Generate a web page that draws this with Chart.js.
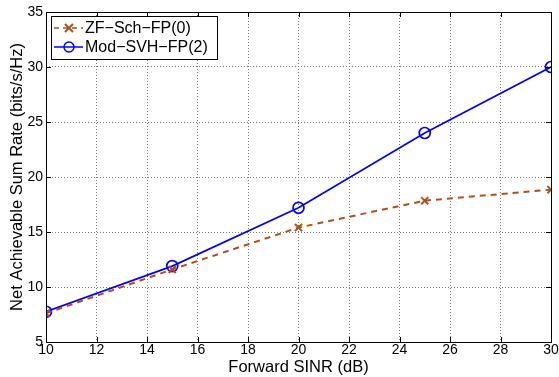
<!DOCTYPE html>
<html>
<head>
<meta charset="utf-8">
<script src="https://cdn.jsdelivr.net/npm/chart.js@4.4.0/dist/chart.umd.min.js"></script>
<style>
  html, body { margin: 0; padding: 0; background: #fff; }
  #wrap { width: 559px; height: 377px; }
</style>
</head>
<body>
<div id="wrap"><canvas id="chart" width="559" height="377"></canvas></div>
<script>
// forward SINR (dB)
const sinr = [10, 15, 20, 25, 30];
// net achievable sum rate (bits/s/Hz)
const zfSch = [7.6, 11.6, 15.4, 17.85, 18.85];
const modSvh = [7.75, 11.9, 17.2, 24.0, 30.0];

const xTicks = [10, 12, 14, 16, 18, 20, 22, 24, 26, 28, 30];
const yTicks = [5, 10, 15, 20, 25, 30, 35];

const seriesNames = ['ZF\u2212Sch\u2212FP(0)', 'Mod\u2212SVH\u2212FP(2)'];
const brown = 'rgb(178,78,24)';
const blue = '#0000ff';
const font = '"Liberation Sans", Arial, sans-serif';

const toPoints = (ys) => ys.map((y, i) => ({ x: sinr[i], y }));

// matlab style box, inward ticks and legend
const matlabBox = {
  id: 'matlabBox',
  afterDraw(chart) {
    const { ctx, chartArea: a, scales } = chart;
    ctx.save();
    ctx.strokeStyle = '#000';
    ctx.lineWidth = 1;
    ctx.strokeRect(a.left + 0.5, a.top + 0.5, a.right - a.left, a.bottom - a.top);
    ctx.beginPath();
    xTicks.forEach(v => {
      const px = Math.round(scales.x.getPixelForValue(v)) + 0.5;
      ctx.moveTo(px, a.bottom); ctx.lineTo(px, a.bottom - 5);
      ctx.moveTo(px, a.top); ctx.lineTo(px, a.top + 5);
    });
    yTicks.forEach(v => {
      const py = Math.round(scales.y.getPixelForValue(v)) + 0.5;
      ctx.moveTo(a.left, py); ctx.lineTo(a.left + 5, py);
      ctx.moveTo(a.right, py); ctx.lineTo(a.right - 5, py);
    });
    ctx.stroke();

    // legend
    const lx = a.left + 5, ly = a.top + 4, lw = 166, lh = 43;
    ctx.fillStyle = '#fff';
    ctx.fillRect(lx, ly, lw, lh);
    ctx.strokeRect(lx + 0.5, ly + 0.5, lw, lh);
    ctx.font = '16px ' + font;
    ctx.textBaseline = 'middle';
    const rows = [ly + 12, ly + 31];
    // row 1: dashed brown with x
    ctx.strokeStyle = brown; ctx.lineWidth = 1.5;
    ctx.setLineDash([5, 4]);
    ctx.beginPath(); ctx.moveTo(lx + 3, rows[0]); ctx.lineTo(lx + 32, rows[0]); ctx.stroke();
    ctx.setLineDash([]);
    ctx.lineWidth = 2;
    ctx.beginPath();
    ctx.moveTo(lx + 14, rows[0] - 4); ctx.lineTo(lx + 22, rows[0] + 4);
    ctx.moveTo(lx + 22, rows[0] - 4); ctx.lineTo(lx + 14, rows[0] + 4);
    ctx.stroke();
    // row 2: solid blue with circle
    ctx.strokeStyle = blue; ctx.lineWidth = 1.5;
    ctx.beginPath(); ctx.moveTo(lx + 3, rows[1]); ctx.lineTo(lx + 32, rows[1]); ctx.stroke();
    ctx.beginPath(); ctx.arc(lx + 18, rows[1], 5, 0, Math.PI * 2); ctx.stroke();
    ctx.fillStyle = '#000';
    ctx.fillText(seriesNames[0], lx + 34, rows[0] + 1);
    ctx.fillText(seriesNames[1], lx + 34, rows[1] + 1);
    ctx.restore();
  }
};

new Chart(document.getElementById('chart'), {
  type: 'line',
  data: {
    datasets: [
      {
        label: seriesNames[0],
        data: toPoints(zfSch),
        borderColor: brown,
        borderWidth: 2,
        borderDash: [6, 5],
        pointStyle: 'crossRot',
        pointRadius: 5,
        pointBorderWidth: 2,
        pointBorderColor: brown,
        pointBackgroundColor: brown,
        tension: 0
      },
      {
        label: seriesNames[1],
        data: toPoints(modSvh),
        borderColor: blue,
        borderWidth: 1.7,
        pointStyle: 'circle',
        pointRadius: 5.5,
        pointBorderWidth: 1.7,
        pointBorderColor: blue,
        pointBackgroundColor: 'rgba(0,0,0,0)',
        tension: 0
      }
    ]
  },
  options: {
    responsive: false,
    animation: false,
    devicePixelRatio: 1,
    layout: { padding: { top: 12, right: 8, left: 0, bottom: 0 } },
    plugins: {
      legend: { display: false },
      tooltip: { enabled: false }
    },
    scales: {
      x: {
        type: 'linear',
        min: 10,
        max: 30,
        afterBuildTicks: (s) => { s.ticks = xTicks.map(v => ({ value: v })); },
        afterFit: (s) => { s.height = 35; },
        ticks: { color: '#000', font: { family: font, size: 14 }, padding: 0, maxRotation: 0 },
        grid: { color: '#777', lineWidth: 1, drawTicks: false },
        border: { display: false, dash: [1, 2] },
        title: { display: true, text: 'Forward SINR (dB)', color: '#000', font: { family: font, size: 16.5 }, padding: { top: -1, bottom: 0 } }
      },
      y: {
        min: 5,
        max: 35,
        afterBuildTicks: (s) => { s.ticks = yTicks.map(v => ({ value: v })); },
        afterFit: (s) => { s.width = 46; },
        ticks: { color: '#000', font: { family: font, size: 14 }, padding: 3 },
        grid: { color: '#777', lineWidth: 1, drawTicks: false },
        border: { display: false, dash: [1, 2] },
        title: { display: true, text: 'Net Achievable Sum Rate (bits/s/Hz)', color: '#000', font: { family: font, size: 16.5 }, padding: { top: 8, bottom: 0 } }
      }
    }
  },
  plugins: [matlabBox]
});
</script>
</body>
</html>
